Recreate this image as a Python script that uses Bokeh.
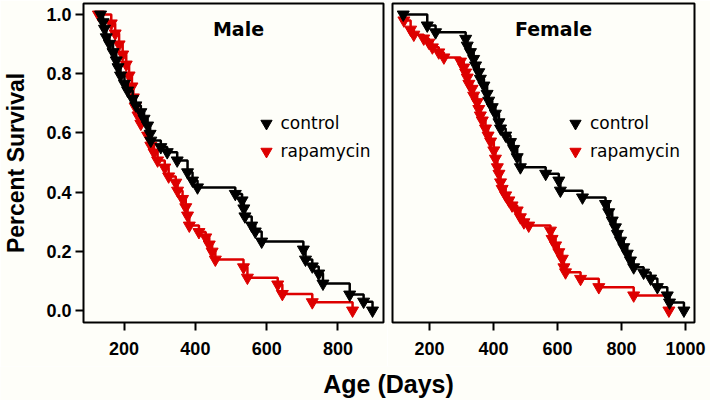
from bokeh.plotting import figure
from bokeh.models import Range1d, FixedTicker, Legend, LegendItem, Label, PrintfTickFormatter
from bokeh.layouts import column, row
from bokeh.embed import file_html
from bokeh.resources import INLINE

# ---------------- data ----------------
y_ticks = [0.0, 0.2, 0.4, 0.6, 0.8, 1.0]
male_ticks = [200, 400, 600, 800]
female_ticks = [200, 400, 600, 800, 1000]

male_ctrl_days = [134, 141, 145, 150, 159, 169, 178, 183, 190, 201, 210, 224, 233, 247, 256, 266, 273, 275, 303, 321,
                  349, 378, 392, 406, 512, 531, 536, 539, 558, 568, 586, 703, 709, 728, 746, 758, 833, 872, 897]
male_ctrl_surv = [1.0, 0.974, 0.952, 0.923, 0.901, 0.873, 0.845, 0.822, 0.794, 0.766, 0.743, 0.715, 0.693, 0.670,
                  0.648, 0.625, 0.597, 0.574, 0.552, 0.535, 0.507, 0.467, 0.439, 0.416, 0.394, 0.372, 0.345, 0.318,
                  0.287, 0.267, 0.233, 0.206, 0.172, 0.149, 0.125, 0.091, 0.054, 0.030, 0.0]

male_rapa_days = [128, 164, 175, 186, 196, 206, 214, 222, 226, 231, 239, 247, 266, 275, 284, 294, 314, 325, 345, 350,
                  364, 373, 378, 383, 410, 429, 439, 447, 456, 535, 546, 631, 644, 728, 841]
male_rapa_surv = [1.0, 0.970, 0.936, 0.899, 0.865, 0.831, 0.794, 0.757, 0.720, 0.689, 0.659, 0.631, 0.591, 0.557,
                  0.534, 0.507, 0.483, 0.453, 0.432, 0.405, 0.377, 0.349, 0.321, 0.287, 0.265, 0.247, 0.223, 0.199,
                  0.172, 0.146, 0.111, 0.088, 0.056, 0.028, 0.0]

female_ctrl_days = [118, 193, 219, 313, 318, 328, 338, 344, 354, 359, 370, 380, 385, 396, 406, 417, 422, 438, 453, 463,
                    474, 484, 563, 604, 609, 678, 750, 760, 771, 781, 787, 797, 807, 818, 828, 838, 869, 891, 912,
                    943, 950, 995]
female_ctrl_surv = [1.0, 0.963, 0.940, 0.918, 0.895, 0.873, 0.850, 0.828, 0.805, 0.783, 0.760, 0.732, 0.709, 0.687,
                    0.665, 0.636, 0.615, 0.591, 0.569, 0.546, 0.518, 0.484, 0.462, 0.439, 0.405, 0.382, 0.360, 0.332,
                    0.304, 0.281, 0.259, 0.236, 0.214, 0.192, 0.169, 0.146, 0.128, 0.108, 0.079, 0.051, 0.027, 0.0]

female_rapa_days = [120, 141, 151, 182, 198, 209, 229, 245, 297, 307, 313, 318, 323, 333, 338, 349, 354, 359, 365, 375,
                    383, 391, 401, 406, 412, 417, 422, 427, 438, 448, 458, 474, 484, 495, 510, 578, 583, 594, 604, 615,
                    620, 625, 672, 729, 838, 948]
female_rapa_surv = [0.980, 0.949, 0.932, 0.919, 0.905, 0.889, 0.872, 0.855, 0.841, 0.821, 0.804, 0.787, 0.766, 0.749,
                    0.726, 0.704, 0.681, 0.659, 0.642, 0.615, 0.591, 0.571, 0.541, 0.513, 0.484, 0.462, 0.433, 0.411,
                    0.389, 0.372, 0.355, 0.338, 0.315, 0.298, 0.287, 0.270, 0.242, 0.220, 0.197, 0.175, 0.146, 0.129,
                    0.107, 0.079, 0.051, 0.0]

series_labels = ["control", "rapamycin"]
panel_titles = ["Male", "Female"]
x_title = "Age (Days)"
y_title = "Percent Survival"

# ---------------- style ----------------
BG = "#fefef9"
CTRL = "#000000"
RAPA = "#dd0000"
TICK_FONT = "Liberation Sans"
LEG_FONT = "DejaVu Sans"


def make_panel(width, x_start, x_end, ticks, border_left, border_right, with_y):
    p = figure(width=width, height=366, output_backend="svg", toolbar_location=None,
               x_range=Range1d(x_start, x_end), y_range=Range1d(-0.0405, 1.0372),
               min_border_left=border_left, min_border_right=border_right,
               min_border_top=3, min_border_bottom=44,
               background_fill_color=BG, border_fill_color=BG)
    p.grid.visible = False
    p.outline_line_color = "black"
    p.outline_line_width = 2
    p.xaxis.ticker = FixedTicker(ticks=ticks)
    for ax in p.axis:
        ax.axis_line_color = None
        ax.major_tick_out = 8
        ax.major_tick_in = 0
        ax.major_tick_line_width = 2
        ax.major_tick_line_color = "black"
        ax.minor_tick_line_color = None
        ax.major_label_text_font = TICK_FONT
        ax.major_label_text_font_style = "bold"
        ax.major_label_text_font_size = "18px"
        ax.major_label_text_color = "black"
    p.xaxis.major_label_standoff = 11
    if with_y:
        p.yaxis.ticker = FixedTicker(ticks=y_ticks)
        p.yaxis.formatter = PrintfTickFormatter(format="%.1f")
        p.yaxis.major_label_standoff = 4
        p.yaxis.axis_label = y_title
        p.yaxis.axis_label_text_font = TICK_FONT
        p.yaxis.axis_label_text_font_style = "bold"
        p.yaxis.axis_label_text_font_size = "23px"
        p.yaxis.axis_label_text_color = "black"
        p.yaxis.axis_label_standoff = 14
    else:
        p.yaxis.visible = False
    return p


def add_curves(p, ctrl_x, ctrl_y, rapa_x, rapa_y, title, title_x, legend_x):
    p.step(rapa_x, rapa_y, mode="after", line_color=RAPA, line_width=2.5)
    r_rapa = p.scatter(rapa_x, rapa_y, marker="inverted_triangle", size=12,
                       fill_color=RAPA, line_color=RAPA)
    p.step(ctrl_x, ctrl_y, mode="after", line_color=CTRL, line_width=2.5)
    r_ctrl = p.scatter(ctrl_x, ctrl_y, marker="inverted_triangle", size=12,
                       fill_color=CTRL, line_color=CTRL)
    legend = Legend(items=[LegendItem(label=series_labels[0], renderers=[r_ctrl]),
                           LegendItem(label=series_labels[1], renderers=[r_rapa])],
                    location=(legend_x, 157), glyph_width=30, glyph_height=28, spacing=0,
                    padding=0, margin=0, label_standoff=0, label_height=28,
                    border_line_color=None, background_fill_alpha=0,
                    label_text_font=LEG_FONT, label_text_font_size="17px",
                    label_text_color="black")
    p.add_layout(legend)
    p.add_layout(Label(x=title_x, y=294, x_units="screen", y_units="screen", text=title,
                       text_align="center", text_baseline="alphabetic",
                       text_font=LEG_FONT, text_font_style="bold", text_font_size="19px",
                       text_color="black"))


p1 = make_panel(387, 86.1, 927.8, male_ticks, 80, 4, True)
add_curves(p1, male_ctrl_days, male_ctrl_surv, male_rapa_days, male_rapa_surv, panel_titles[0], 155, 167.5)

p2 = make_panel(323, 84.4, 1028.0, female_ticks, 5, 16, False)
add_curves(p2, female_ctrl_days, female_ctrl_surv, female_rapa_days, female_rapa_surv, panel_titles[1], 161, 168)

p3 = figure(width=710, height=34, output_backend="svg", toolbar_location=None,
            x_range=Range1d(0, 1), y_range=Range1d(0, 1), min_border=0,
            background_fill_color=BG, border_fill_color=BG)
p3.axis.visible = False
p3.grid.visible = False
p3.outline_line_color = None
p3.add_layout(Label(x=388, y=17, x_units="screen", y_units="screen", text=x_title,
                    text_align="center", text_baseline="middle",
                    text_font=TICK_FONT, text_font_style="bold", text_font_size="25px",
                    text_color="black"))

layout = column(row(p1, p2), p3)
open("out.html", "w").write(file_html(layout, INLINE))
